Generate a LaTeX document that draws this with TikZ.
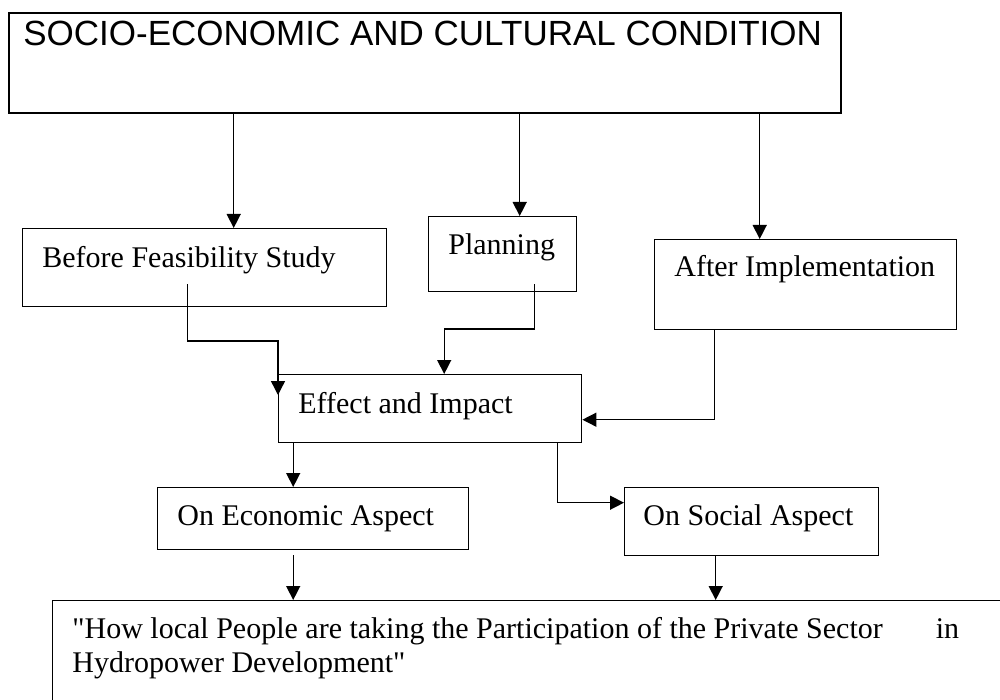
\documentclass[tikz,border=0pt]{standalone}
\usepackage{fontspec}
\usepackage{tikz}
\usetikzlibrary{calc}
\usetikzlibrary{arrows.meta}
\setmainfont{Liberation Serif}
\newfontfamily\headfont{Liberation Sans}

\tikzset{
    box/.style={draw,line width=0.7pt,inner sep=0pt,anchor=north west},
    txt/.style={anchor=base west,inner sep=0pt,font=\fontsize{15pt}{17pt}\selectfont},
    link/.style={line width=0.7pt,-{Triangle[length=7pt,width=7pt]}}
}

\begin{document}
\begin{tikzpicture}[x=0.5pt,y=-0.5pt]
        \useasboundingbox (0,0) rectangle (1000,700);

        % boxes
        \node[box,line width=1pt,minimum width=416pt,minimum height=50pt] (top) at (8,12) {};
        \node[box,minimum width=182pt,minimum height=39pt] (before) at (22,228) {};
        \node[box,minimum width=74pt,minimum height=37.5pt] (planning) at (428,216) {};
        \node[box,minimum width=151pt,minimum height=45pt] (after) at (654,239) {};
        \node[box,minimum width=151.5pt,minimum height=34pt] (effect) at (278,374) {};
        \node[box,minimum width=155.5pt,minimum height=31pt] (econ) at (157,487) {};
        \node[box,minimum width=127pt,minimum height=34pt] (social) at (624,487) {};
        \node[box,minimum width=490pt,minimum height=70pt] (quest) at (52,600) {};

        \node[txt,font=\headfont\fontsize{17.5pt}{20pt}\selectfont] (toptxt) at ($(top.north west)+(15,34)$) {SOCIO-ECONOMIC AND CULTURAL CONDITION};
        \node[txt] (beforetxt) at ($(before.north west)+(20,39)$) {Before Feasibility Study};
        \node[txt] (planningtxt) at ($(planning.north west)+(20,39)$) {Planning};
        \node[txt] (aftertxt) at ($(after.north west)+(20,38)$) {After Implementation};
        \node[txt] (effecttxt) at ($(effect.north west)+(20,39)$) {Effect and Impact};
        \node[txt] (econtxt) at ($(econ.north west)+(20,38)$) {On Economic Aspect};
        \node[txt] (socialtxt) at ($(social.north west)+(19,38)$) {On Social Aspect};
        \node[txt] (ask1) at ($(quest.north west)+(20,38)$) {\textquotedbl How local People are taking the Participation of the Private Sector\hspace{26.5pt}in};
        \node[txt] (ask2) at ($(quest.north west)+(20,72)$) {Hydropower Development\textquotedbl};

        % arrows
        \coordinate (d1) at ($(before.north)+(29,0)$);
        \coordinate (d2) at ($(planning.north)+(17,0)$);
        \coordinate (d3) at ($(after.north)+(-46,0)$);
        \draw[link] (d1 |- top.south) -- (d1);
        \draw[link] (d2 |- top.south) -- (d2);
        \draw[link] (d3 |- top.south) -- (d3);

        \draw[link] ($(before.south)+(-17,-23)$) |- ($(effect.north west)+(0,-33)$) -- ($(effect.north west)+(0,21)$);
        \draw[link] ($(planning.south)+(32,-8)$) |- ($(effect.north)+(14,-45)$) -- ($(effect.north)+(14,0)$);
        \draw[link] ($(after.south)+(-91,0)$) |- ($(effect.east)+(0,11)$);

        \draw[link] ($(effect.south)+(-137,0)$) -- ($(econ.north)+(-20,0)$);
        \draw[link] ($(effect.south)+(127,0)$) |- ($(social.west)+(0,-19)$);

        \coordinate (d4) at ($(econ.south)+(-20,5)$);
        \coordinate (d5) at ($(social.south)+(-36,0)$);
        \draw[link] (d4) -- (d4 |- quest.north);
        \draw[link] (d5) -- (d5 |- quest.north);
\end{tikzpicture}
\end{document}
